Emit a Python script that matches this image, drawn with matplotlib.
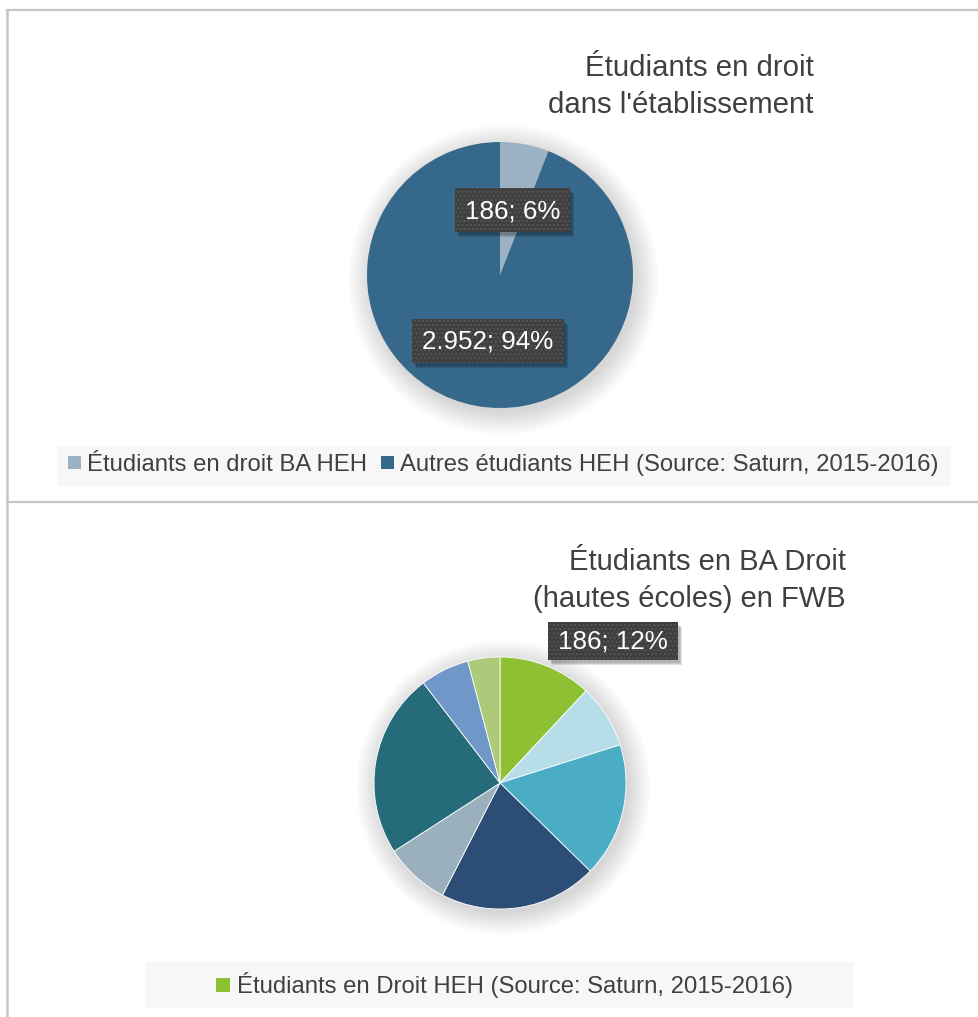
import matplotlib.pyplot as plt
from matplotlib.patches import Rectangle, Circle

plt.rcParams['font.family'] = ['Liberation Sans', 'DejaVu Sans']

# -------------------------------------------------
# Data
# -------------------------------------------------
title_1 = ["Étudiants en droit", "dans l'établissement"]
labels_1 = ["Étudiants en droit BA HEH", "Autres étudiants HEH (Source: Saturn, 2015-2016)"]
values_1 = [186, 2952]
colors_1 = ["#9ab2c3", "#35688a"]

title_2 = ["Étudiants en BA Droit", "(hautes écoles) en FWB"]
legend_2 = "Étudiants en Droit HEH (Source: Saturn, 2015-2016)"
values_2 = [186, 127, 268, 315, 130, 369, 98, 64]
colors_2 = ["#8dc133", "#b6dde8", "#4bacc6", "#2c4e76",
            "#9ab0bd", "#266b7a", "#6f98c9", "#adc97a"]

W, H = 979, 1017
TXT = "#404040"
BORDER = "#c6c6c6"

fig = plt.figure(figsize=(W / 100, H / 100), dpi=100)
fig.patch.set_facecolor("white")

# background axes in pixel coordinates (y downwards)
bg = fig.add_axes([0, 0, 1, 1])
bg.set_xlim(0, W)
bg.set_ylim(H, 0)
bg.axis("off")


def fmt_value(v):
    # thousands separator as dot (french/belgian style)
    return f"{v:,}".replace(",", ".")


def data_label(ax, x, y, text, w, h):
    # shadow + dark dotted box + white text
    for k, a in enumerate([0.10, 0.10, 0.12]):
        ax.add_patch(Rectangle((x - w / 2 + 2 + k, y - h / 2 + 3 + k), w, h,
                               facecolor="black", alpha=a, lw=0, zorder=5))
    ax.add_patch(Rectangle((x - w / 2, y - h / 2), w, h,
                           facecolor="#3f3f3f", edgecolor="#555555", lw=0,
                           hatch="....", zorder=6))
    ax.text(x, y + 1, text, color="white", fontsize=18.7,
            ha="center", va="center", zorder=7)


def pie_axes(cx, cy, r, pad=1.3):
    size = 2 * r * pad
    ax = fig.add_axes([(cx - size / 2) / W, 1 - (cy + size / 2) / H,
                       size / W, size / H])
    ax.set_aspect("equal")
    ax.axis("off")
    # soft shadow around the pie
    for k in range(20):
        ax.add_patch(Circle((0.025, -0.035), 1.0 + 0.009 * k,
                            facecolor="black", alpha=0.009, lw=0, zorder=0))
    return ax


# -------------------------------------------------
# Panel borders
# -------------------------------------------------
bg.plot([7, W], [10, 10], color=BORDER, lw=1.6)
bg.plot([7, 7], [10, H], color=BORDER, lw=1.8)
bg.plot([7, W], [502, 502], color=BORDER, lw=1.6)

# -------------------------------------------------
# Chart 1
# -------------------------------------------------
bg.text(814, 76, title_1[0], fontsize=21.2, color=TXT, ha="right", va="baseline")
bg.text(814, 113, title_1[1], fontsize=21.2, color=TXT, ha="right", va="baseline")

ax1 = pie_axes(500, 275, 133)
ax1.pie(values_1, colors=colors_1, startangle=90, counterclock=False,
        wedgeprops=dict(linewidth=0), radius=1.0)
ax1.set_xlim(-1.3, 1.3)
ax1.set_ylim(-1.3, 1.3)

# legend 1
bg.add_patch(Rectangle((57, 446), 893, 40, facecolor="#f7f7f7", lw=0))
bg.add_patch(Rectangle((68, 456), 13, 13, facecolor=colors_1[0], lw=0))
bg.text(87, 471, labels_1[0], fontsize=17.2, color=TXT, ha="left", va="baseline")
bg.add_patch(Rectangle((381, 456), 13, 13, facecolor=colors_1[1], lw=0))
bg.text(400, 471, labels_1[1], fontsize=17.2, color=TXT, ha="left", va="baseline")

# -------------------------------------------------
# Chart 2
# -------------------------------------------------
bg.text(846, 570, title_2[0], fontsize=21, color=TXT, ha="right", va="baseline")
bg.text(846, 607, title_2[1], fontsize=21, color=TXT, ha="right", va="baseline")

ax2 = pie_axes(500, 783, 126)
ax2.pie(values_2, colors=colors_2, startangle=90, counterclock=False,
        wedgeprops=dict(linewidth=0.6, edgecolor="white"), radius=1.0)
ax2.set_xlim(-1.3, 1.3)
ax2.set_ylim(-1.3, 1.3)

# legend 2
bg.add_patch(Rectangle((146, 962), 707, 46, facecolor="#f7f7f7", lw=0))
bg.add_patch(Rectangle((216, 978), 14, 14, facecolor=colors_2[0], lw=0))
bg.text(237, 993, legend_2, fontsize=17.2, color=TXT, ha="left", va="baseline")

# -------------------------------------------------
# Data labels on an overlay axes (above the pies)
# -------------------------------------------------
top = fig.add_axes([0, 0, 1, 1])
top.set_xlim(0, W)
top.set_ylim(H, 0)
top.axis("off")

tot_1 = sum(values_1)
data_label(top, 513, 210, f"{fmt_value(values_1[0])}; {round(100 * values_1[0] / tot_1)}%", 115, 44)
data_label(top, 488, 341, f"{fmt_value(values_1[1])}; {round(100 * values_1[1] / tot_1)}%", 152, 44)

tot_2 = sum(values_2)
data_label(top, 613, 641, f"{fmt_value(values_2[0])}; {round(100 * values_2[0] / tot_2)}%", 130, 38)

fig.savefig("out.png", dpi=100)
